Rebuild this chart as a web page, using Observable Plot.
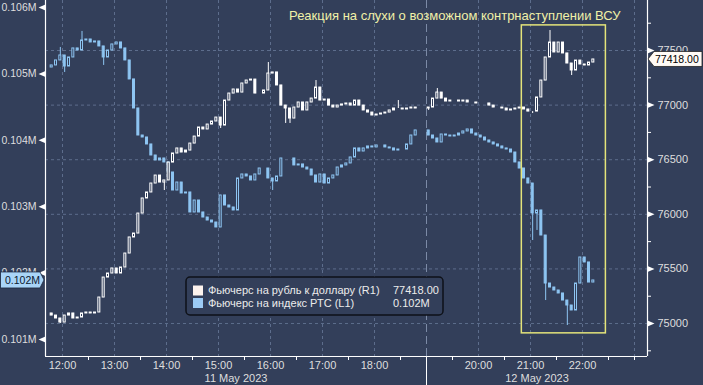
<!DOCTYPE html>
<html><head><meta charset="utf-8">
<script src="https://cdn.jsdelivr.net/npm/d3@7"></script>
<script src="https://cdn.jsdelivr.net/npm/@observablehq/plot@0.6"></script>
<style>
html,body{margin:0;padding:0;background:#333f5a;}
#chart svg{display:block}
</style></head><body><div id="chart"></div>
<script>
// ---------- data ----------
const title = "Реакция на слухи о возможном контрнаступлении ВСУ";
const seriesNames = ["Фьючерс на рубль к доллару (R1)", "Фьючерс на индекс РТС (L1)"];
const sessionDates = ["11 May 2023", "12 May 2023"];
const sessionStarts = ["11:40", "19:00"];          // first 5-min candle of each session
const sessionBreak = "19:00";
const hourLabels = ["12:00","13:00","14:00","15:00","16:00","17:00","18:00","20:00","21:00","22:00"];
const rubTicks = [75000, 75500, 76000, 76500, 77000, 77500];
const rtsTicks = [101000, 102000, 103000, 104000, 105000, 106000];

// USD/RUB futures (R1), 5-minute closes
const rubL = [75092,75073,75046,75009,75073,75092,75046,75055,75092,75101,
  75092,75101,75238,75421,75458,75504,75458,75513,75641,75788,
  75824,76007,76145,76200,76282,76355,76291,76310,76474,76557,
  76603,76566,76584,76648,76712,76795,76777,76822,76850,76886,
  76813,77042,77106,77143,77115,77198,77225,77234,77106,77106,
  77134,77289,77299,77180,76996,76969,76877,76978,77024,76951,
  77024,77060,77161,77042,77051,76996,76978,76996,77006,77015,
  76996,77042,76996,76951,76932,76905,76914,76923,76932,76951,
  76969,76969,76960,76969,76978,76969];
const rubR = [76978,77060,77115,77060,77033,77042,77042,77033,77042,77024,
  77024,77015,77015,77015,76996,76978,76978,76969,76951,76960,
  76969,76978,76960,76941,76941,77070,77225,77436,77573,77482,
  77573,77473,77381,77317,77408,77372,77363,77390,77418];
const rubHighL = [[51,77390],[62,77225],[81,77042]];
const rubLowL = [[3,75000],[27,76218],[40,76786],[55,76832],[56,76832]];
const rubHighR = [[2,77152],[28,77683]];
const rubLowR = [[0,76951],[24,76923],[33,77271]];

// RTS index futures (L1), 5-minute closes
const rtsL = [105096,105127,105202,105277,105111,105247,105383,105352,105503,105518,
  105473,105488,105413,105247,105352,105443,105473,105383,105202,104916,
  104479,104072,104042,103937,103771,103696,103726,103666,103515,103244,
  103364,103199,103214,102913,103093,102913,102837,102792,102762,102687,
  103169,103018,102988,102943,103425,103485,103455,103395,103485,103575,
  103575,103425,103380,103455,103726,103726,103726,103621,103636,103590,
  103560,103470,103364,103485,103349,103425,103470,103590,103621,103651,
  103741,103877,103831,103877,103907,103892,103922,103922,103892,103877,
  103846,103861,103861,103937,104072,104148];
const rtsR = [104072,104027,103967,104087,104072,104057,104072,104102,104133,104163,
  104102,104072,104042,103997,103967,103937,103907,103877,103861,103816,
  103666,103575,103425,103349,102898,102943,102566,101843,101783,101738,
  101693,101587,101512,101437,101843,102235,102160,101858,101889];
const rtsHighL = [[3,105398],[8,105639]];
const rtsLowL = [[4,105021],[13,105127],[44,103048],[52,103244]];
const rtsHighR = [];
const rtsLowR = [[24,102491],[25,102642],[27,101587],[32,101211]];

// highlighted reaction window
const highlight = {from: "20:50", to: "22:27", top: 77730, bottom: 74910};

// ---------- layout / style ----------
const W = 703, H = 385, mL = 45, mR = 56, mT = 0, mB = 29;
const xDomain = [11.673, 23.25];
const yDomain = [74698, 77958];          // R1 (right axis)
const rtsDomain = [100744, 106105];      // L1 (left axis)
const toR = d3.scaleLinear().domain(rtsDomain).range(yDomain);
const bg = "#333f5a", white = "#ffffff", blue = "#8ec5f2", grid = "#5d6d8c", lab = "#dedede";
const pxX = (W - mL - mR) / (xDomain[1] - xDomain[0]);
const pxY = (H - mT - mB) / (yDomain[1] - yDomain[0]);
const hm = s => { const [h, m] = s.split(":").map(Number); return h + m / 60; };
const font = "'Liberation Sans', Arial, sans-serif";

function candles(closes, start, highs, lows, firstOpen, map = v => v) {
  const hi = new Map(highs), lo = new Map(lows);
  return closes.map((c, i) => {
    const o = i === 0 ? firstOpen : closes[i - 1];
    const h = Math.max(o, c, hi.has(i) ? hi.get(i) : -Infinity);
    const l = Math.min(o, c, lo.has(i) ? lo.get(i) : Infinity);
    return {t: start + (i + 0.5) / 12, o: map(o), c: map(c), h: map(h), l: map(l), up: c >= o};
  });
}
const s0 = hm(sessionStarts[0]), s1 = hm(sessionStarts[1]);
const rubC = [...candles(rubL, s0, rubHighL, rubLowL, rubL[0]),
              ...candles(rubR, s1, rubHighR, rubLowR, rubL[rubL.length - 1])];
const rtsC = [...candles(rtsL, s0, rtsHighL, rtsLowL, rtsL[0], toR),
              ...candles(rtsR, s1, rtsHighR, rtsLowR, rtsL[rtsL.length - 1], toR)];
const hw = 1.0 / pxX;
function candleMarks(data, color) {
  return [
    Plot.ruleX(data, {x: "t", y1: "l", y2: "h", stroke: color, strokeWidth: 1}),
    Plot.rect(data.filter(d => d.up), {x1: d => d.t - hw, x2: d => d.t + hw, y1: "o", y2: "c", fill: bg, stroke: color, strokeWidth: 1}),
    Plot.rect(data.filter(d => !d.up), {x1: d => d.t - hw, x2: d => d.t + hw, y1: "o", y2: "c", fill: color, stroke: color, strokeWidth: 1})
  ];
}

const brk = hm(sessionBreak);
const hourGrid = d3.range(12, 24).filter(h => h !== brk);
const halfTicks = d3.range(12.5, 23, 1).concat([23]);
const rubMinor = d3.range(74750, 78000, 500);
const rtsMinor = d3.range(100500, 106500, 1000).map(v => v + 500).filter(v => v > rtsDomain[0] && v < rtsDomain[1]);
const sessionMid = [(xDomain[0] + brk) / 2, (brk + xDomain[1]) / 2];

const chart = Plot.plot({
  width: W, height: H, marginLeft: mL, marginRight: mR, marginTop: mT, marginBottom: mB,
  style: {background: bg, fontFamily: font, overflow: "visible"},
  x: {domain: xDomain, axis: null},
  y: {domain: yDomain, axis: null},
  marks: [
    Plot.ruleY(rubTicks, {stroke: grid, strokeDasharray: "3,3", strokeWidth: 1}),
    Plot.ruleX(hourGrid, {stroke: grid, strokeDasharray: "3,3", strokeWidth: 1}),
    Plot.ruleX([brk], {stroke: "#7c8aa6", strokeDasharray: "8,4", strokeWidth: 1}),
    Plot.ruleX([brk], {y1: yDomain[0], y2: yDomain[0] - 29 / pxY, stroke: white, strokeWidth: 1}),
    ...candleMarks(rtsC, blue),
    ...candleMarks(rubC, white),
    Plot.rect([highlight], {x1: d => hm(d.from), x2: d => hm(d.to), y1: "bottom", y2: "top", fill: "none", stroke: "#e4e47a", strokeWidth: 1.5}),
    // axes lines
    Plot.ruleX([xDomain[0], xDomain[1]], {stroke: white, strokeWidth: 1.2}),
    Plot.ruleY([yDomain[0]], {stroke: white, strokeWidth: 1.2}),
    // x ticks and labels
    Plot.ruleX(halfTicks, {y1: yDomain[0], y2: yDomain[0] - 4 / pxY, stroke: white}),
    Plot.text(hourLabels, {x: d => hm(d), text: d => d, frameAnchor: "bottom", dy: 9, fill: lab, fontSize: 11, lineAnchor: "middle"}),
    Plot.text(sessionDates, {x: (d, i) => sessionMid[i], text: d => d, frameAnchor: "bottom", dy: 22, fill: lab, fontSize: 11, lineAnchor: "middle"}),
    // right axis (R1)
    Plot.ruleY(rubMinor, {x1: xDomain[1], x2: xDomain[1] + 4 / pxX, stroke: white}),
    Plot.vector(rubTicks, {x: () => xDomain[1], y: d => d, shape: "spike", anchor: "start", rotate: 90, length: 7, r: 3, fill: white, stroke: "none"}),
    Plot.text(rubTicks, {y: d => d, text: d => String(d), frameAnchor: "right", dx: 10, textAnchor: "start", fill: lab, fontSize: 11}),
    // left axis (L1)
    Plot.ruleY(rtsMinor, {y: d => toR(d), x1: xDomain[0] - 4 / pxX, x2: xDomain[0], stroke: white}),
    Plot.vector(rtsTicks, {x: () => xDomain[0], y: d => toR(d), shape: "spike", anchor: "start", rotate: -90, length: 7, r: 3, fill: white, stroke: "none"}),
    Plot.text(rtsTicks, {y: d => toR(d), text: d => (d / 1e6).toFixed(3) + "M", frameAnchor: "left", dx: -9, textAnchor: "end", fill: lab, fontSize: 10.5}),
    // title
    Plot.text([title], {frameAnchor: "top-right", dx: -27, dy: 15, text: d => d, fill: "#f0f0a8", fontSize: 13, lineAnchor: "middle", textAnchor: "end"})
  ]
});

// ---------- last-value tags & legend ----------
const svg = d3.select(chart);
const sy = chart.scale("y");
const lastRub = rubR[rubR.length - 1], lastRts = rtsR[rtsR.length - 1];
const rubTxt = lastRub.toFixed(2), rtsTxt = (lastRts / 1e6).toFixed(3) + "M";
const xr = W - mR;
{
  const y = sy.apply(lastRub);
  svg.append("path").attr("d", `M${xr + 1},${y} L${xr + 7},${y - 7.5} L${W - 1},${y - 7.5} L${W - 1},${y + 7.5} L${xr + 7},${y + 7.5} Z`)
    .attr("fill", "#fffaf5").attr("stroke", "#222").attr("stroke-width", 0.8);
  svg.append("text").attr("x", xr + 8).attr("y", y).attr("dy", "0.35em").attr("font-size", 10.5)
    .attr("text-anchor", "start").attr("font-family", font).attr("fill", "#000").text(rubTxt);
}
{
  const y = sy.apply(toR(lastRts));
  svg.append("path").attr("d", `M${mL - 1},${y} L${mL - 5},${y - 8} L0.5,${y - 8} L0.5,${y + 8} L${mL - 5},${y + 8} Z`)
    .attr("fill", "#a9d4f7").attr("stroke", "#1a2740").attr("stroke-width", 0.8);
  svg.append("text").attr("x", 5).attr("y", y).attr("dy", "0.35em").attr("font-size", 10.5)
    .attr("text-anchor", "start").attr("font-family", font).attr("fill", "#0b1830").text(rtsTxt);
}
{
  const g = svg.append("g").attr("font-family", font).attr("font-size", 11).attr("text-anchor", "start");
  g.append("rect").attr("x", 186).attr("y", 277).attr("width", 257).attr("height", 38).attr("rx", 4)
    .attr("fill", bg).attr("stroke", "#0e1118").attr("stroke-width", 1.5);
  const rows = [[seriesNames[0], rubTxt, "#fdf3ee"], [seriesNames[1], rtsTxt, "#9ccbf5"]];
  rows.forEach(([name, val, col], i) => {
    const cy = 290.5 + i * 12.5;
    g.append("rect").attr("x", 193).attr("y", cy - 5).attr("width", 10).attr("height", 10).attr("fill", col);
    g.append("text").attr("x", 208).attr("y", cy).attr("dy", "0.35em").attr("fill", "#ececec").text(name);
    g.append("text").attr("x", 393).attr("y", cy).attr("dy", "0.35em").attr("fill", "#ececec").text(val);
  });
}
document.getElementById("chart").appendChild(chart);
</script></body></html>
